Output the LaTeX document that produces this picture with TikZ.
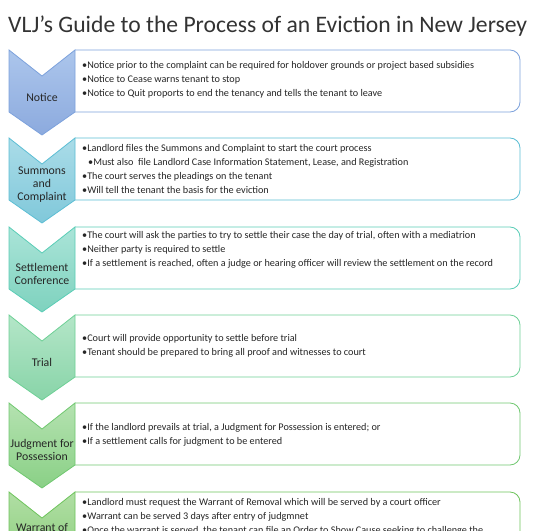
\documentclass[tikz,border=0pt]{standalone}
\usepackage{fontspec}
\setmainfont{Carlito}
\begin{document}
\begin{tikzpicture}[x=1pt,y=-1pt,
  boxtxt/.style={anchor=base west,inner sep=0pt,font=\fontsize{10.2}{11}\selectfont,text=black!85},
  chevlbl/.style={align=center,inner sep=0pt,font=\fontsize{11.8}{13}\selectfont,text=black!85},
  titletxt/.style={anchor=base west,inner sep=0pt,font=\fontsize{24}{28}\selectfont,text=black!80}]
\useasboundingbox (0,0) rectangle (535,530);
\clip (0,0) rectangle (535,530);
\definecolor{b1}{RGB}{125,162,220}\definecolor{c1t}{RGB}{172,198,236}\definecolor{c1b}{RGB}{140,170,222}
\definecolor{b2}{RGB}{92,190,212}\definecolor{c2t}{RGB}{170,220,232}\definecolor{c2b}{RGB}{128,200,218}
\definecolor{b3}{RGB}{90,205,182}\definecolor{c3t}{RGB}{170,228,216}\definecolor{c3b}{RGB}{126,210,190}
\definecolor{b4}{RGB}{110,208,150}\definecolor{c4t}{RGB}{180,230,200}\definecolor{c4b}{RGB}{136,212,168}
\definecolor{b5}{RGB}{112,200,112}\definecolor{c5t}{RGB}{180,226,176}\definecolor{c5b}{RGB}{138,208,134}
\definecolor{b6}{RGB}{110,196,92}\definecolor{c6t}{RGB}{176,222,164}\definecolor{c6b}{RGB}{134,204,118}
\newcommand{\mystage}[4]{%
  \draw[#4,fill=white,line width=0.8pt] (75,#1) [rounded corners=10] -- (520,#1) -- (520,#1+62) [sharp corners] -- (75,#1+62);
  \shadedraw[draw=#4,top color=#2,bottom color=#3,line width=0.8pt]
    (9,#1) -- (42,#1+26) -- (75,#1) -- (75,#1+62) -- (42,#1+85) -- (9,#1+62) -- cycle;}
\node[titletxt] (title) at (8,32) {\resizebox{519pt}{!}{VLJ’s Guide to the Process of an Eviction in New Jersey}};
\mystage{50}{c1t}{c1b}{b1}
\mystage{138}{c2t}{c2b}{b2}
\mystage{227}{c3t}{c3b}{b3}
\mystage{315}{c4t}{c4b}{b4}
\mystage{403}{c5t}{c5b}{b5}
\mystage{492}{c6t}{c6b}{b6}
% labels
\node[chevlbl] (l1) at (42,97) {Notice};
\node[chevlbl] (l2) at (42,185) {Summons\\and\\Complaint};
\node[chevlbl] (l3) at (42,274) {Settlement\\Conference};
\node[chevlbl] (l4) at (42,362) {Trial};
\node[chevlbl] (l5) at (42,450) {Judgment for\\Possession};
\node[chevlbl] (l6) at (42,534) {Warrant of\\Removal};
% box texts
\node[boxtxt] (t1a) at (82,68) {•Notice prior to the complaint can be required for holdover grounds or project based subsidies};
\node[boxtxt] (t1b) at (82,82) {•Notice to Cease warns tenant to stop};
\node[boxtxt] (t1c) at (82,96) {•Notice to Quit proports to end the tenancy and tells the tenant to leave};
\node[boxtxt] (t2a) at (82,151) {•Landlord files the Summons and Complaint to start the court process};
\node[boxtxt] (t2b) at (88,165) {•Must also\ \ file Landlord Case Information Statement, Lease, and Registration};
\node[boxtxt] (t2c) at (82,179) {•The court serves the pleadings on the tenant};
\node[boxtxt] (t2d) at (82,193) {•Will tell the tenant the basis for the eviction};
\node[boxtxt] (t3a) at (82,238) {•The court will ask the parties to try to settle their case the day of trial, often with a mediatrion};
\node[boxtxt] (t3b) at (82,252) {•Neither party is required to settle};
\node[boxtxt] (t3c) at (82,266) {•If a settlement is reached, often a judge or hearing officer will review the settlement on the record};
\node[boxtxt] (t4a) at (82,341) {•Court will provide opportunity to settle before trial};
\node[boxtxt] (t4b) at (82,355) {•Tenant should be prepared to bring all proof and witnesses to court};
\node[boxtxt] (t5a) at (82,430) {•If the landlord prevails at trial, a Judgment for Possession is entered; or};
\node[boxtxt] (t5b) at (82,444) {•If a settlement calls for judgment to be entered};
\node[boxtxt] (t6a) at (82,505) {•Landlord must request the Warrant of Removal which will be served by a court officer};
\node[boxtxt] (t6b) at (82,519) {•Warrant can be served 3 days after entry of judgmnet};
\node[boxtxt] (t6c) at (82,533) {•Once the warrant is served, the tenant can file an Order to Show Cause seeking to challenge the};
\end{tikzpicture}
\end{document}
